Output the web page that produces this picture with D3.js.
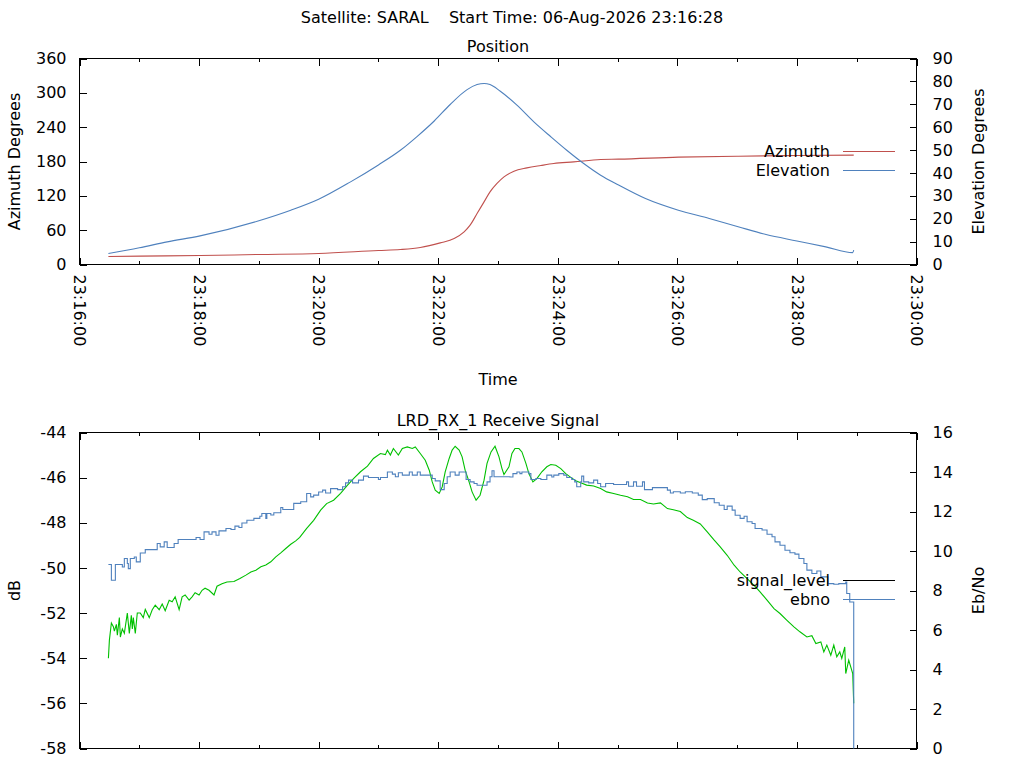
<!DOCTYPE html>
<html>
<head>
<meta charset="utf-8">
<script src="https://cdn.jsdelivr.net/npm/d3@7"></script>
<style>
  body { margin: 0; background: #fff; }
  svg { font-family: "DejaVu Sans", sans-serif; font-size: 16px; }
  .axis path { display: none; }
  .axis line { stroke: #000; shape-rendering: crispEdges; }
  .axis text { fill: #000; font-size: 16px; font-family: "DejaVu Sans", sans-serif; }
</style>
</head>
<body>
<svg id="chart" width="1024" height="768"></svg>
<script>
// Time range of both plots (seconds are counted from 23:16:00)
const startTime = new Date(2026, 7, 6, 23, 16, 0);
const endTime = new Date(2026, 7, 6, 23, 30, 0);

// Position plot
const azSec = [29, 61, 121, 180, 240, 300, 322, 342, 362, 376, 386, 392, 399, 406, 412, 419, 426, 436, 449, 463, 476, 496, 523, 541, 601, 661, 720, 777];
const azimuth = [14.0, 14.6, 15.7, 17.5, 19.2, 24.5, 26.2, 29.7, 37.8, 45.4, 57.0, 68.7, 89.1, 109.4, 126.9, 141.6, 153.1, 163.1, 168.8, 173.0, 176.5, 179.3, 183.5, 184.1, 187.6, 189.3, 190.5, 191.1];

const elSec = [29, 60, 88, 121, 180, 212, 240, 272, 300, 322, 339, 356, 372, 389, 399, 406, 412, 422, 439, 456, 473, 489, 506, 523, 541, 568, 601, 632, 661, 689, 720, 749, 776, 777];
const elevation = [4.8, 7.3, 9.9, 12.5, 19.1, 23.7, 28.5, 36.1, 43.5, 49.9, 56.0, 62.7, 69.9, 76.4, 78.6, 79.1, 78.6, 75.8, 69.6, 62.3, 55.8, 49.9, 44.1, 39.0, 34.7, 28.8, 23.7, 20.1, 16.5, 13.1, 10.3, 7.7, 5.2, 6.3];

// Receive signal plot
const sigSec = [29, 30, 32, 34, 35, 37, 38, 40, 41, 43, 45, 47, 48, 50, 52, 53, 54, 56, 58, 61, 64, 66, 70, 73, 76, 80, 83, 86, 90, 93, 96, 100, 103, 106, 110, 113, 116, 120, 123, 126, 130, 135, 138, 143, 148, 155, 161, 167, 172, 177, 182, 187, 192, 197, 202, 207, 212, 217, 221, 228, 235, 242, 248, 255, 262, 269, 275, 282, 289, 295, 302, 307, 309, 312, 315, 320, 324, 329, 334, 337, 342, 347, 351, 354, 357, 361, 364, 367, 371, 374, 377, 381, 384, 387, 391, 394, 398, 402, 406, 409, 413, 417, 421, 424, 426, 431, 434, 437, 441, 444, 448, 451, 455, 459, 464, 469, 473, 478, 483, 488, 493, 498, 503, 509, 516, 523, 529, 536, 543, 550, 556, 563, 570, 576, 583, 590, 596, 603, 610, 616, 623, 630, 637, 643, 650, 657, 663, 670, 677, 683, 690, 697, 703, 710, 717, 723, 730, 735, 739, 744, 747, 750, 754, 757, 760, 763, 765, 768, 769, 772, 774, 776, 777];
const signalLevel = [-54.0, -53.2, -52.44, -52.6, -52.8, -52.5, -52.98, -52.2, -53.06, -52.7, -52.9, -52.3, -52.0, -52.9, -52.1, -52.7, -52.2, -52.9, -52.0, -52.0, -52.2, -51.84, -52.2, -51.85, -51.65, -51.85, -51.6, -51.9, -51.43, -51.5, -51.28, -51.85, -51.28, -51.2, -51.43, -51.28, -51.1, -51.2, -50.99, -50.9, -50.99, -51.2, -50.81, -50.7, -50.62, -50.6, -50.47, -50.32, -50.18, -50.1, -49.95, -49.87, -49.73, -49.51, -49.33, -49.14, -48.95, -48.8, -48.65, -48.25, -47.89, -47.44, -47.15, -47.0, -46.7, -46.33, -46.04, -45.74, -45.49, -45.15, -44.93, -44.98, -44.78, -45.0, -44.71, -45.0, -44.71, -44.64, -44.71, -44.64, -44.93, -45.23, -45.67, -46.19, -46.56, -46.7, -46.41, -45.74, -45.15, -44.78, -44.61, -44.78, -45.08, -45.67, -46.19, -46.63, -47.0, -46.78, -46.11, -45.37, -44.86, -44.61, -45.08, -45.6, -45.86, -45.52, -44.93, -44.71, -44.71, -44.86, -45.37, -45.82, -46.19, -46.04, -45.74, -45.52, -45.42, -45.45, -45.6, -45.82, -45.99, -46.14, -46.23, -46.33, -46.37, -46.48, -46.63, -46.7, -46.78, -46.85, -46.97, -46.97, -47.12, -47.17, -47.12, -47.37, -47.42, -47.5, -47.77, -47.89, -48.05, -48.4, -48.77, -49.07, -49.44, -49.88, -50.18, -50.47, -50.77, -51.06, -51.43, -51.8, -52.02, -52.32, -52.61, -52.83, -53.06, -53.0, -53.35, -53.28, -53.72, -53.42, -53.87, -53.42, -53.94, -53.72, -54.01, -53.5, -54.68, -54.09, -54.38, -54.68, -56.0];

const ebSec = [29, 32, 36, 43, 45, 48, 49, 51, 55, 57, 61, 66, 78, 81, 85, 88, 95, 99, 117, 121, 125, 130, 133, 137, 140, 147, 152, 156, 160, 163, 168, 175, 181, 183, 187, 188, 192, 195, 202, 204, 215, 222, 228, 232, 235, 240, 244, 247, 252, 259, 264, 267, 270, 274, 280, 285, 290, 300, 302, 309, 314, 317, 320, 324, 331, 334, 339, 342, 354, 357, 362, 366, 369, 372, 377, 381, 388, 392, 396, 399, 409, 412, 414, 416, 432, 435, 439, 442, 444, 451, 453, 458, 463, 469, 474, 476, 481, 486, 489, 494, 497, 499, 503, 504, 506, 511, 516, 520, 523, 528, 536, 549, 551, 556, 559, 565, 567, 575, 590, 593, 596, 603, 608, 615, 621, 625, 630, 637, 642, 647, 650, 655, 658, 663, 667, 670, 675, 678, 685, 690, 695, 698, 703, 708, 713, 718, 722, 727, 730, 735, 740, 744, 751, 757, 762, 769, 770, 773, 777];
const ebno = [9.32, 8.52, 9.32, 9.19, 9.62, 9.37, 9.11, 9.62, 9.7, 9.45, 9.9, 10.07, 10.38, 10.21, 10.46, 10.18, 10.38, 10.58, 10.68, 10.58, 10.97, 10.85, 10.97, 10.8, 11.02, 11.14, 11.09, 11.26, 11.19, 11.42, 11.56, 11.65, 11.76, 11.9, 11.65, 11.9, 11.82, 11.94, 12.2, 12.1, 12.41, 12.49, 12.91, 12.74, 12.83, 12.99, 13.08, 12.94, 13.16, 13.11, 13.25, 13.45, 13.59, 13.45, 13.59, 13.79, 13.72, 13.62, 13.72, 14.0, 13.89, 13.76, 13.96, 13.84, 14.0, 13.84, 14.0, 13.84, 13.67, 13.55, 13.11, 13.42, 13.76, 14.0, 13.84, 14.0, 13.62, 13.5, 13.42, 13.33, 13.5, 13.76, 14.06, 13.76, 13.75, 13.92, 14.0, 13.92, 14.0, 13.92, 13.62, 13.67, 13.62, 13.84, 13.75, 13.84, 13.92, 13.84, 13.72, 13.62, 13.5, 13.25, 13.5, 13.79, 13.5, 13.45, 13.59, 13.42, 13.25, 13.42, 13.37, 13.5, 13.28, 13.5, 13.28, 13.5, 13.11, 13.21, 13.08, 12.94, 13.0, 12.94, 13.0, 12.94, 12.83, 12.6, 12.65, 12.44, 12.32, 12.1, 12.27, 12.07, 11.81, 11.65, 11.76, 11.48, 11.39, 11.14, 11.06, 10.85, 10.72, 10.46, 10.29, 10.04, 9.91, 9.84, 9.62, 9.37, 9.03, 8.86, 8.99, 8.69, 8.35, 8.32, 8.35, 8.43, 7.85, 7.42, 0.0];

// Tick values
const azTicks = [0, 60, 120, 180, 240, 300, 360];
const elTicks = [0, 10, 20, 30, 40, 50, 60, 70, 80, 90];
const dbTicks = [-58, -56, -54, -52, -50, -48, -46, -44];
const ebTicks = [0, 2, 4, 6, 8, 10, 12, 14, 16];

const red = "#c0504d", blue = "#4f81bd", green = "#00c000";

const svg = d3.select("#chart");
const L = 79.5, R = 916.5;
const top1 = 58.5, bot1 = 264.5, top2 = 432.5, bot2 = 748.5;

const toDate = s => new Date(startTime.getTime() + s * 1000);
const x = d3.scaleTime().domain([startTime, endTime]).range([L, R]);

const yAz = d3.scaleLinear().domain([0, 360]).range([bot1, top1]);
const yEl = d3.scaleLinear().domain([0, 90]).range([bot1, top1]);
const yDb = d3.scaleLinear().domain([-58, -44]).range([bot2, top2]);
const yEb = d3.scaleLinear().domain([0, 16]).range([bot2, top2]);

// Frame, ticks and tick labels of one plot
function drawFrame(yl, yr, lTicks, rTicks, yTop, yBot, timeLabels) {
  svg.append("g").attr("class", "axis")
    .attr("transform", `translate(${L},0)`)
    .call(d3.axisLeft(yl).tickValues(lTicks).tickSize(-7).tickPadding(13).tickFormat(d => String(d)));
  svg.append("g").attr("class", "axis")
    .attr("transform", `translate(${R},0)`)
    .call(d3.axisRight(yr).tickValues(rTicks).tickSize(-7).tickPadding(16).tickFormat(d => String(d)));

  // minor ticks every minute, major every two
  [yTop, yBot].forEach((yy, i) => {
    const mk = i === 0 ? d3.axisTop : d3.axisBottom;
    svg.append("g").attr("class", "axis")
      .attr("transform", `translate(0,${yy})`)
      .call(mk(x).ticks(d3.timeMinute.every(1)).tickSize(-3.5).tickFormat(""));
    const major = svg.append("g").attr("class", "axis")
      .attr("transform", `translate(0,${yy})`)
      .call(mk(x).ticks(d3.timeMinute.every(2)).tickSize(-7)
        .tickFormat(i === 1 && timeLabels ? d3.timeFormat("%H:%M:%S") : ""));
    if (i === 1 && timeLabels) {
      major.selectAll("text")
        .attr("y", 0).attr("x", 10).attr("dy", "0.36em")
        .attr("transform", "rotate(90)")
        .style("text-anchor", "start");
    }
  });

  svg.append("rect")
    .attr("x", L).attr("y", yTop)
    .attr("width", R - L).attr("height", yBot - yTop)
    .attr("fill", "none").attr("stroke", "#000")
    .attr("shape-rendering", "crispEdges");
}

function drawLine(secs, vals, y, color, curve) {
  const pts = secs.map((s, i) => [toDate(s), vals[i]]);
  svg.append("path")
    .datum(pts)
    .attr("fill", "none")
    .attr("stroke", color)
    .attr("stroke-width", 1.1)
    .attr("d", d3.line().x(d => x(d[0])).y(d => y(d[1])).curve(curve));
}

function legendRow(label, color, yy) {
  svg.append("text").attr("x", 830).attr("y", yy).attr("dy", "0.35em")
    .attr("text-anchor", "end").text(label);
  svg.append("line").attr("x1", 843).attr("x2", 895).attr("y1", yy).attr("y2", yy)
    .attr("stroke", color).attr("stroke-width", 1.2);
}

// Titles
svg.append("text").attr("x", 512).attr("y", 23).attr("text-anchor", "middle")
  .style("white-space", "pre")
  .text("Satellite: SARAL    Start Time: 06-Aug-2026 23:16:28");
svg.append("text").attr("x", (L + R) / 2).attr("y", 52).attr("text-anchor", "middle").text("Position");
svg.append("text").attr("x", (L + R) / 2).attr("y", 426).attr("text-anchor", "middle").text("LRD_RX_1 Receive Signal");

// Top plot
drawFrame(yAz, yEl, azTicks, elTicks, top1, bot1, true);
drawLine(azSec, azimuth, yAz, red, d3.curveMonotoneX);
drawLine(elSec, elevation, yEl, blue, d3.curveMonotoneX);
legendRow("Azimuth", red, 151.5);
legendRow("Elevation", blue, 170.5);

svg.append("text").attr("transform", `translate(14,${(top1 + bot1) / 2}) rotate(-90)`)
  .attr("text-anchor", "middle").attr("dy", "0.35em").text("Azimuth Degrees");
svg.append("text").attr("transform", `translate(978,${(top1 + bot1) / 2}) rotate(-90)`)
  .attr("text-anchor", "middle").attr("dy", "0.35em").text("Elevation Degrees");
svg.append("text").attr("x", (L + R) / 2).attr("y", 385).attr("text-anchor", "middle").text("Time");

// Bottom plot
drawFrame(yDb, yEb, dbTicks, ebTicks, top2, bot2, false);
drawLine(sigSec, signalLevel, yDb, green, d3.curveLinear);
drawLine(ebSec, ebno, yEb, blue, d3.curveStepAfter);
legendRow("signal_level", "#000", 580.5);
legendRow("ebno", blue, 599.5);

svg.append("text").attr("transform", `translate(14,${(top2 + bot2) / 2}) rotate(-90)`)
  .attr("text-anchor", "middle").attr("dy", "0.35em").text("dB");
svg.append("text").attr("transform", `translate(978,${(top2 + bot2) / 2}) rotate(-90)`)
  .attr("text-anchor", "middle").attr("dy", "0.35em").text("Eb/No");
</script>
</body>
</html>
